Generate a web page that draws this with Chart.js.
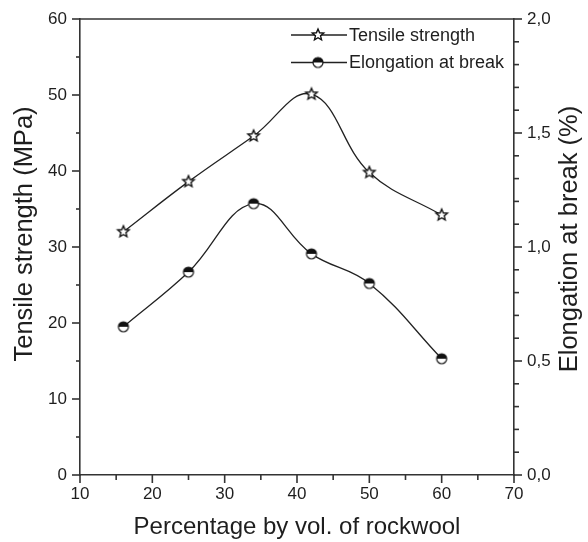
<!DOCTYPE html>
<html>
<head>
<meta charset="utf-8">
<script src="https://cdn.jsdelivr.net/npm/chart.js@4"></script>
<style>
html, body { margin: 0; padding: 0; background: #fff; }
</style>
</head>
<body>
<canvas id="line-chart" width="588" height="542"></canvas>
<script>
// data
const rockwool = [16, 25, 34, 42, 50, 60]
const tensile = [32.0, 38.6, 44.6, 50.1, 39.8, 34.2]
const elongation = [0.65, 0.89, 1.19, 0.97, 0.84, 0.51]
const xTicks = [10, 20, 30, 40, 50, 60, 70]
const leftTicks = [0, 10, 20, 30, 40, 50, 60]
const rightTicks = [0, 0.5, 1.0, 1.5, 2.0]
const seriesNames = ["Tensile strength", "Elongation at break"]

const fontFam = '"Liberation Sans", Arial, Helvetica, sans-serif'
const ink = '#1e1e1e'
const axisInk = '#333'

function makeStar(r){
    let c = document.createElement('canvas')
    c.width = c.height = Math.ceil(2 * r + 4)
    let g = c.getContext('2d')
    let m = c.width / 2
    g.beginPath()
    for(let i = 0; i < 10; i++){
        let rad = i % 2 === 0 ? r : r * 0.45
        let ang = -Math.PI / 2 + i * Math.PI / 5
        g.lineTo(m + rad * Math.cos(ang), m + rad * Math.sin(ang))
    }
    g.closePath()
    g.fillStyle = '#fff'
    g.fill()
    g.strokeStyle = '#111'
    g.lineWidth = 1.4
    g.stroke()
    return c
}

function makeHalfCircle(r){
    let c = document.createElement('canvas')
    c.width = c.height = Math.ceil(2 * r + 4)
    let g = c.getContext('2d')
    let m = c.width / 2
    g.beginPath()
    g.arc(m, m, r, 0, 2 * Math.PI)
    g.fillStyle = '#fff'
    g.fill()
    g.beginPath()
    g.arc(m, m, r, Math.PI, 2 * Math.PI)
    g.closePath()
    g.fillStyle = '#111'
    g.fill()
    g.beginPath()
    g.arc(m, m, r, 0, 2 * Math.PI)
    g.strokeStyle = '#111'
    g.lineWidth = 1.2
    g.stroke()
    return c
}

const starImg = makeStar(6)
const halfImg = makeHalfCircle(5)

function toComma(v){
    return v.toFixed(1).replace('.', ',')
}

// minor ticks, frame top, rotated titles and legend
const decor = {
    id: 'decor',
    afterDraw(chart){
        const ctx = chart.ctx
        const a = chart.chartArea
        const sx = chart.scales.x, sy = chart.scales.y, sy1 = chart.scales.y1
        ctx.save()
        ctx.strokeStyle = axisInk
        ctx.lineWidth = 1.6
        function seg(x1, y1, x2, y2){
            ctx.beginPath(); ctx.moveTo(x1, y1); ctx.lineTo(x2, y2); ctx.stroke()
        }
        seg(a.left, a.top, a.right, a.top)
        for(let v = 10; v <= 70; v += 5){
            let px = sx.getPixelForValue(v)
            seg(px, a.bottom, px, a.bottom + (v % 10 === 0 ? 8 : 5))
        }
        for(let v = 0; v <= 60; v += 5){
            let py = sy.getPixelForValue(v)
            seg(a.left, py, a.left - (v % 10 === 0 ? 8 : 4), py)
        }
        for(let i = 0; i <= 20; i++){
            let py = sy1.getPixelForValue(i / 10)
            seg(a.right, py, a.right + (i % 5 === 0 ? 8 : 5), py)
        }

        ctx.fillStyle = ink
        ctx.font = '25.5px ' + fontFam
        ctx.textAlign = 'center'
        ctx.textBaseline = 'middle'
        ctx.save()
        ctx.translate(25, 234)
        ctx.rotate(-Math.PI / 2)
        ctx.fillText('Tensile strength (MPa)', 0, 0)
        ctx.restore()
        ctx.save()
        ctx.translate(570, 239)
        ctx.rotate(-Math.PI / 2)
        ctx.fillText('Elongation at break (%)', 0, 0)
        ctx.restore()

        // legend
        const imgs = [starImg, halfImg]
        const rowsY = [35, 62.5]
        ctx.lineWidth = 1.3
        ctx.strokeStyle = '#222'
        ctx.font = '18px ' + fontFam
        ctx.textAlign = 'left'
        for(let i = 0; i < 2; i++){
            let y = rowsY[i]
            seg(291, y, 347, y)
            let im = imgs[i]
            ctx.drawImage(im, 318 - im.width / 2, y - im.height / 2)
            ctx.fillText(seriesNames[i], 349, y + 1)
        }
        ctx.restore()
    }
}

Chart.defaults.font.family = fontFam
Chart.defaults.color = ink

new Chart(document.getElementById("line-chart"), {
    type: 'line',
    data: {
        datasets: [
            {
                label: seriesNames[0],
                data: rockwool.map((x, i) => ({x: x, y: tensile[i]})),
                yAxisID: 'y',
                borderColor: '#222',
                borderWidth: 1.3,
                tension: 0.4,
                pointStyle: starImg,
                pointRadius: 5
            },
            {
                label: seriesNames[1],
                data: rockwool.map((x, i) => ({x: x, y: elongation[i]})),
                yAxisID: 'y1',
                borderColor: '#222',
                borderWidth: 1.3,
                tension: 0.4,
                pointStyle: halfImg,
                pointRadius: 5
            }
        ]
    },
    options: {
        responsive: false,
        animation: false,
        layout: { padding: { top: 19, left: 0, right: 0, bottom: 0 } },
        plugins: {
            legend: { display: false },
            tooltip: { enabled: false }
        },
        scales: {
            x: {
                type: 'linear',
                min: 10,
                max: 70,
                afterBuildTicks: s => { s.ticks = xTicks.map(v => ({value: v})) },
                afterFit: s => { s.height = 67 },
                grid: { display: false },
                border: { display: true, color: axisInk, width: 1.6 },
                ticks: { font: { size: 17 }, padding: 1, maxRotation: 0 },
                title: {
                    display: true,
                    text: 'Percentage by vol. of rockwool',
                    font: { size: 24 },
                    padding: { top: 0, bottom: 0 }
                }
            },
            y: {
                position: 'left',
                min: 0,
                max: 60,
                afterBuildTicks: s => { s.ticks = leftTicks.map(v => ({value: v})) },
                afterFit: s => { s.width = 80 },
                grid: { display: false },
                border: { display: true, color: axisInk, width: 1.6 },
                ticks: { font: { size: 17 }, padding: 5 }
            },
            y1: {
                position: 'right',
                min: 0,
                max: 2,
                afterBuildTicks: s => { s.ticks = rightTicks.map(v => ({value: v})) },
                afterFit: s => { s.width = 74 },
                grid: { display: false },
                border: { display: true, color: axisInk, width: 1.6 },
                ticks: { font: { size: 17 }, padding: 5, callback: v => toComma(v) }
            }
        }
    },
    plugins: [decor]
});
</script>
</body>
</html>
